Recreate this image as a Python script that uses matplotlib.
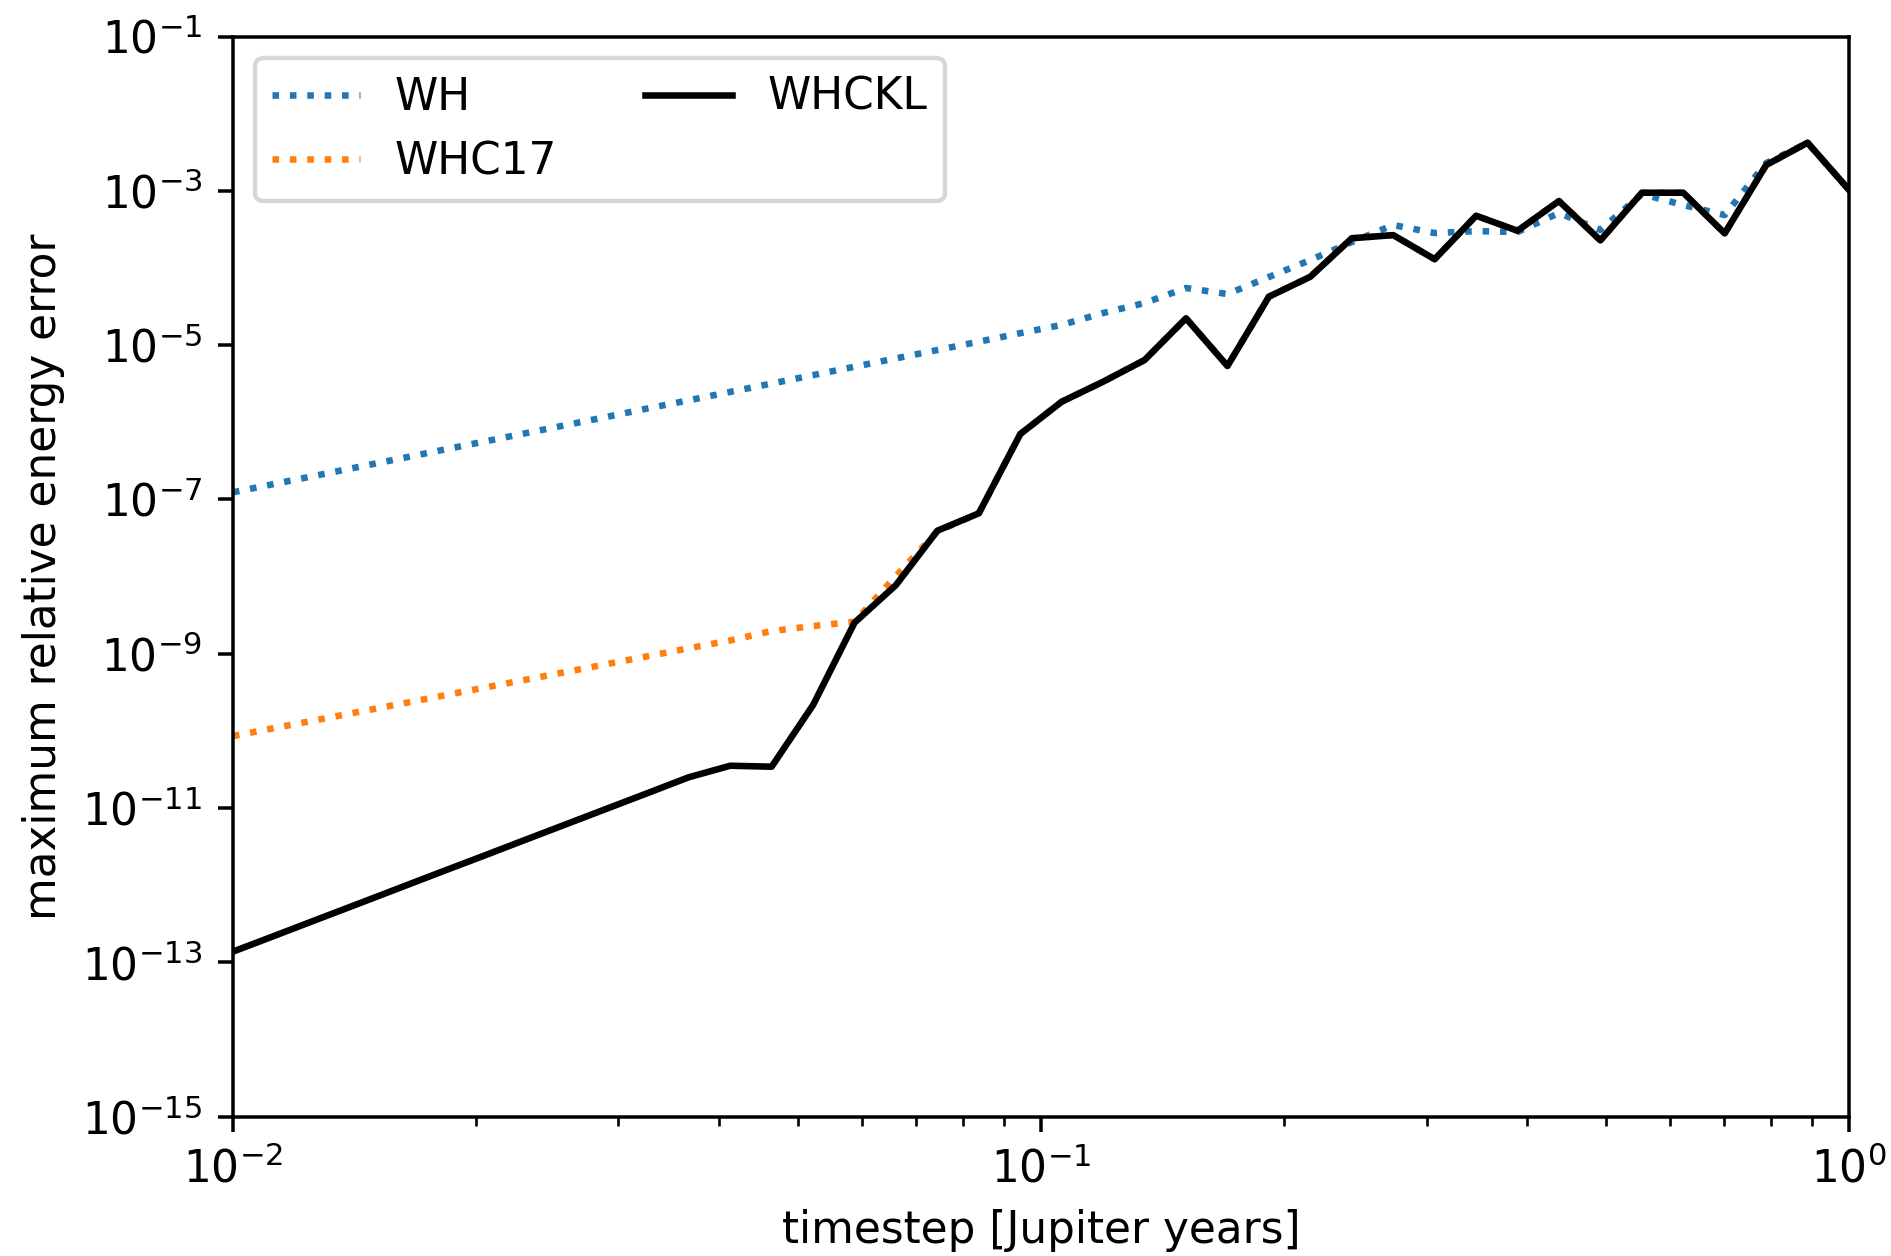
import numpy as np
import matplotlib
matplotlib.use("Agg")
import matplotlib.pyplot as plt
from matplotlib.ticker import FixedLocator, NullLocator, LogFormatterSciNotation

# Timesteps (Jupiter years), 40 log-spaced values from 1e-2 to 1
timestep = np.logspace(-2, 0, 40)

# Maximum relative energy error for each integrator
err_wh = [
    1.24e-7, 1.59e-7, 2.04e-7, 2.62e-7, 3.36e-7, 4.32e-7, 5.54e-7, 7.11e-7,
    9.13e-7, 1.17e-6, 1.51e-6, 1.93e-6, 2.48e-6, 3.18e-6, 4.09e-6, 5.25e-6,
    6.74e-6, 8.65e-6, 1.11e-5, 1.43e-5, 1.83e-5, 2.61e-5, 3.52e-5, 5.51e-5,
    4.60e-5, 7.64e-5, 1.27e-4, 2.17e-4, 3.61e-4, 2.84e-4, 3.01e-4, 2.93e-4,
    5.16e-4, 3.11e-4, 9.10e-4, 6.55e-4, 4.86e-4, 2.29e-3, 4.18e-3, 1.03e-3,
]

err_whc17 = [
    8.59e-11, 1.09e-10, 1.38e-10, 1.75e-10, 2.22e-10, 2.82e-10, 3.58e-10, 4.54e-10,
    5.76e-10, 7.31e-10, 9.27e-10, 1.18e-9, 1.49e-9, 1.97e-9, 2.29e-9, 2.60e-9,
    1.02e-8, 3.85e-8, 6.62e-8, 7.05e-7, 1.85e-6, 3.36e-6, 6.42e-6, 2.23e-5,
    5.37e-6, 4.25e-5, 7.71e-5, 2.43e-4, 2.67e-4, 1.30e-4, 4.76e-4, 3.04e-4,
    7.38e-4, 2.28e-4, 9.46e-4, 9.46e-4, 2.81e-4, 2.16e-3, 4.21e-3, 1.03e-3,
]

err_whckl = [
    1.38e-13, 2.21e-13, 3.55e-13, 5.69e-13, 9.14e-13, 1.47e-12, 2.35e-12, 3.78e-12,
    6.06e-12, 9.73e-12, 1.56e-11, 2.51e-11, 3.54e-11, 3.44e-11, 2.17e-10, 2.53e-9,
    7.78e-9, 3.94e-8, 6.62e-8, 7.05e-7, 1.85e-6, 3.36e-6, 6.42e-6, 2.23e-5,
    5.37e-6, 4.25e-5, 7.71e-5, 2.43e-4, 2.67e-4, 1.30e-4, 4.76e-4, 3.04e-4,
    7.38e-4, 2.28e-4, 9.46e-4, 9.46e-4, 2.81e-4, 2.16e-3, 4.21e-3, 1.03e-3,
]

DPI = 315
fig = plt.figure(figsize=(1891 / DPI, 1256 / DPI), dpi=DPI)
ax = fig.add_axes([0.1232, 0.1109, 0.9778 - 0.1232, 0.9709 - 0.1109])

ax.plot(timestep, err_wh, ls=":", lw=1.5, color="tab:blue", label="WH")
ax.plot(timestep, err_whc17, ls=":", lw=1.5, color="tab:orange", label="WHC17")
ax.plot(timestep, err_whckl, ls="-", lw=1.5, color="black", label="WHCKL")

ax.set_xscale("log")
ax.set_yscale("log")
ax.set_xlim(1e-2, 1e0)
ax.set_ylim(1e-15, 1e-1)

ax.yaxis.set_major_locator(FixedLocator([10.0 ** e for e in range(-15, 0, 2)]))
ax.yaxis.set_major_formatter(LogFormatterSciNotation())
ax.yaxis.set_minor_locator(NullLocator())

ax.set_xlabel("timestep [Jupiter years]")
ax.set_ylabel("maximum relative energy error")
ax.legend(loc="upper left", ncol=2)

fig.savefig("out.png", dpi=DPI)
